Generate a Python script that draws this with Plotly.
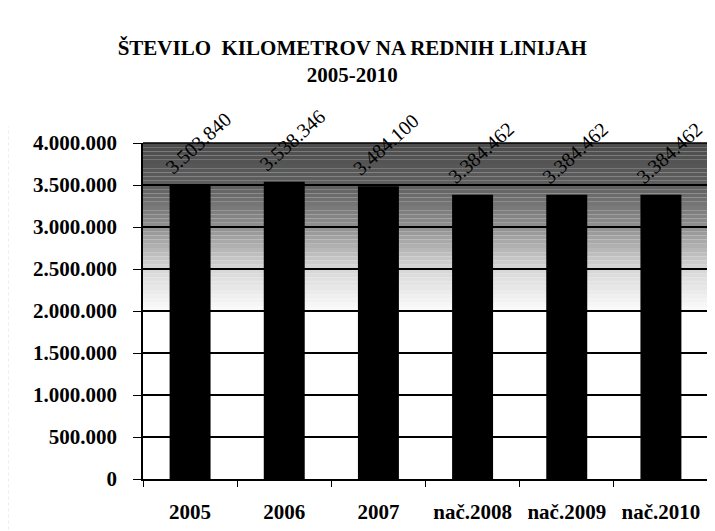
import plotly.graph_objects as go

categories = ["2005", "2006", "2007", "nač.2008", "nač.2009", "nač.2010"]
values = [3503840, 3538346, 3484100, 3384462, 3384462, 3384462]
labels = ["3.503.840", "3.538.346", "3.484.100", "3.384.462", "3.384.462", "3.384.462"]
tick_vals = [0, 500000, 1000000, 1500000, 2000000, 2500000, 3000000, 3500000, 4000000]
tick_text = ["0", "500.000", "1.000.000", "1.500.000", "2.000.000", "2.500.000",
             "3.000.000", "3.500.000", "4.000.000"]

FONT = "Liberation Serif"

fig = go.Figure()
fig.add_trace(go.Bar(
    x=categories, y=values,
    marker=dict(color="black", line=dict(width=0)),
    hoverinfo="skip",
))

# gradient background bands (style only)
shapes = []
n = 40
lo, hi = 2000000, 4000000
for i in range(n):
    y0 = lo + (hi - lo) * i / n
    y1 = lo + (hi - lo) * (i + 1) / n
    t = (i + 0.5) / n  # 0 at bottom, 1 at top
    if t < 0.25:
        g = 252 - 37 * (t / 0.25)
    elif t < 0.5:
        g = 215 - 70 * ((t - 0.25) / 0.25)
    elif t < 0.75:
        g = 145 - 50 * ((t - 0.5) / 0.25)
    else:
        g = 95 - 20 * ((t - 0.75) / 0.25)
    g = int(g)
    shapes.append(dict(type="rect", xref="paper", yref="y", x0=0, x1=1, y0=y0, y1=y1,
                       fillcolor=f"rgb({g},{g},{g})", line=dict(width=0), layer="below"))
# right border of plot area
shapes.append(dict(type="line", xref="paper", yref="paper", x0=1, x1=1, y0=0, y1=1,
                   line=dict(color="black", width=1.5)))
# top border
shapes.append(dict(type="line", xref="paper", yref="paper", x0=0, x1=1, y0=1, y1=1,
                   line=dict(color="black", width=1.5)))
# scan frame line at the left
shapes.append(dict(type="line", xref="paper", yref="paper", x0=-0.24, x1=-0.24, y0=-0.15, y1=1.05,
                   line=dict(color="#888", width=1.5, dash="dot")))

annotations = []
for i, (v, lab) in enumerate(zip(values, labels)):
    annotations.append(dict(x=i, y=v, xref="x", yref="y", text=lab, showarrow=False,
                            textangle=-42, xshift=8, yshift=42,
                            font=dict(family=FONT, size=20, color="black")))

fig.update_layout(
    width=707, height=523,
    margin=dict(l=135, r=7, t=135, b=52, autoexpand=False),
    paper_bgcolor="white", plot_bgcolor="white",
    title=dict(text="<b>ŠTEVILO  KILOMETROV NA REDNIH LINIJAH<br>2005-2010</b>",
               x=0.487, xanchor="center", y=0.91, yanchor="top",
               font=dict(family=FONT, size=21, color="black")),
    bargap=0.565,
    showlegend=False,
    shapes=shapes,
    annotations=annotations,
    font=dict(family=FONT, color="black"),
)
fig.update_yaxes(range=[0, 4000000], tickvals=tick_vals, ticktext=tick_text,
                 tickfont=dict(family=FONT, size=21, color="black", weight="bold"),
                 showgrid=True, gridcolor="black", gridwidth=1.5,
                 showline=True, linecolor="black", linewidth=1.5, mirror=False,
                 ticks="outside", ticklen=8, tickcolor="black", zeroline=False,
                 ticklabelstandoff=12)
fig.update_xaxes(type="category", range=[-0.5, 5.5],
                 tickfont=dict(family=FONT, size=21, color="black", weight="bold"),
                 showline=True, linecolor="black", linewidth=1.5,
                 ticks="outside", ticklen=6, tickcolor="black", tickson="boundaries",
                 showgrid=False, tickangle=0, ticklabelstandoff=13)

fig.write_html("out.html")
